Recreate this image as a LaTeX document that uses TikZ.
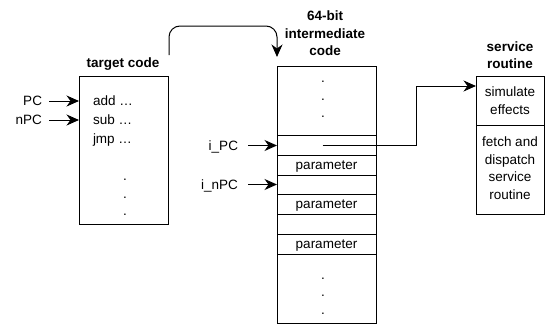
\documentclass[tikz,border=0pt]{standalone}
\usepackage{fontspec}
\setmainfont{Liberation Sans}
\usetikzlibrary{arrows.meta}
\begin{document}
\begin{tikzpicture}[x=1pt, y=-1pt,
  font=\fontsize{13.5}{17.5}\selectfont,
  every node/.style={inner sep=0pt, outer sep=0pt},
  txt/.style={text height=9.7pt, text depth=0pt},
  title/.style={font=\fontsize{13.5}{17.5}\selectfont\bfseries, align=center},
  cell/.style={draw, line width=1pt, anchor=north west, txt,
               minimum width=#1},
  arr/.style={line width=1pt, -{Stealth[length=12.5pt, width=11pt, inset=4pt]}},
  dots/.style={align=center}]
\useasboundingbox (0,0) rectangle (545,324);

% target code
\node[title, txt] (tctitle) at (123,63) {target code};
\node[cell=89pt, minimum height=148pt] (tc) at (79,76) {};
\node[txt, anchor=west] (add) at (93,101) {add …};
\node[txt, anchor=west] (sub) at (93,120) {sub …};
\node[txt, anchor=west] (jmp) at (93,139) {jmp …};
\node[dots] (tcdots) at (125,197.3) {.\\.\\.};
\node[txt, anchor=east] (pc) at (42,101) {PC};
\node[txt, anchor=east] (npc) at (42,120) {nPC};
\draw[arr] ([xshift=7pt]pc.east) -- (pc.east -| tc.west);
\draw[arr] ([xshift=7pt]npc.east) -- (npc.east -| tc.west);

% 64-bit intermediate code
\node[title] (ictitle) at (325,33.4) {64-bit\\intermediate\\code};
\node[cell=99pt, minimum height=69pt] (r0) at (277,66) {};
\node[cell=99pt, minimum height=20pt] (r1) at (277,135) {};
\node[cell=99pt, minimum height=20pt] (r2) at (277,155) {parameter};
\node[cell=99pt, minimum height=19pt] (r3) at (277,175) {};
\node[cell=99pt, minimum height=20pt] (r4) at (277,194) {parameter};
\node[cell=99pt, minimum height=20pt] (r5) at (277,214) {};
\node[cell=99pt, minimum height=20pt] (r6) at (277,234) {parameter};
\node[cell=99pt, minimum height=69pt] (r7) at (277,254) {};
\node[dots] (topdots) at (323,99.3) {.\\.\\.};
\node[dots] (botdots) at (323,296) {.\\.\\.};
\node[txt, anchor=east] (ipc) at (238,145.5) {i\_PC};
\node[txt, anchor=east] (inpc) at (238,184.5) {i\_nPC};
\draw[arr] ([xshift=10pt]ipc.east) -- (ipc.east -| r1.west);
\draw[arr] ([xshift=10pt]inpc.east) -- (inpc.east -| r3.west);

% service routine
\node[title] (srtitle) at (510,55) {service\\routine};
\node[cell=68pt, minimum height=49pt] (s1) at (476,76) {};
\node[cell=68pt, minimum height=89pt] (s2) at (476,125) {};
\node[align=center] (s1text) at (s1.center) {simulate\\effects};
\node[align=center] (s2text) at (510,168.3) {fetch and\\dispatch\\service\\routine};

% connectors
\coordinate (bend) at (416,86);
\draw[arr] ([xshift=-4pt]r1.center) -| (bend) -- (bend -| s1.west);
\coordinate (cstart) at (169,55);
\coordinate (cend) at (277,57);
\draw[arr, rounded corners=11pt] (cstart) -- (cstart |- 0,26) -- (cend |- 0,26) -- (cend);
\end{tikzpicture}
\end{document}
